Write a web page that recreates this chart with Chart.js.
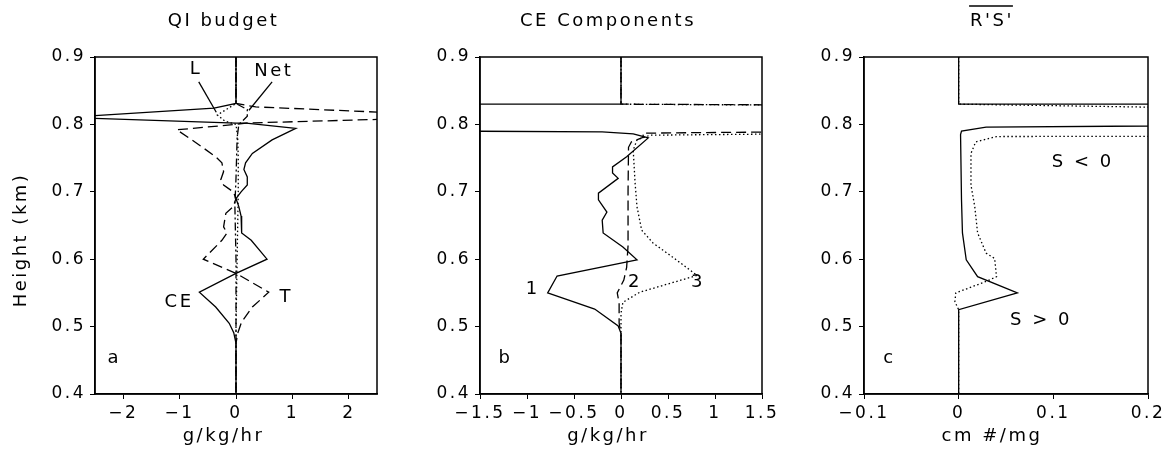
<!DOCTYPE html>
<html>
<head>
<meta charset="utf-8">
<script src="https://cdn.jsdelivr.net/npm/chart.js@4/dist/chart.umd.min.js"></script>
<style>
html, body { margin: 0; padding: 0; background: #fff; overflow: hidden; width: 1164px; height: 451px; }
canvas { position: absolute; top: 0; }
</style>
</head>
<body>
<canvas id="qi" width="447" height="451" style="left:0px"></canvas>
<canvas id="ce" width="416" height="451" style="left:400px"></canvas>
<canvas id="rs" width="380" height="451" style="left:790px"></canvas>
<script>
// ---- data (x = value, y = height in km) ----
const heightTicks = [0.4, 0.5, 0.6, 0.7, 0.8, 0.9];
const qiTicks = [-2, -1, 0, 1, 2];
const ceTicks = [-1.5, -1, -0.5, 0, 0.5, 1, 1.5];
const rsTicks = [-0.1, 0, 0.1, 0.2];

// panel a: QI budget
const qiCE_x = [0, 0, -0.39, -3.0, 0, 0.18, 1.06, 0.64, 0.29, 0.17, 0.14, 0.2, 0.2, 0.09, 0, 0.05, 0.09, 0.1, 0.27, 0.55, 0, -0.65, -0.36, -0.12, -0.04, 0, 0];
const qiCE_h = [0.9, 0.831, 0.824, 0.8104, 0.802, 0.802, 0.794, 0.777, 0.757, 0.743, 0.733, 0.722, 0.71, 0.70, 0.69, 0.678, 0.664, 0.639, 0.628, 0.60, 0.579, 0.551, 0.529, 0.505, 0.491, 0.475, 0.4];
const qiT_x = [0, 0, 0.35, 4.34, 0.18, 0, -1.05, -0.78, -0.36, -0.25, -0.22, -0.27, -0.22, -0.05, 0, -0.05, -0.18, -0.22, -0.16, -0.25, -0.58, 0, 0.58, 0.29, 0.1, 0.03, 0, 0];
const qiT_h = [0.9, 0.831, 0.826, 0.8117, 0.802, 0.80, 0.792, 0.777, 0.752, 0.743, 0.73, 0.718, 0.71, 0.70, 0.69, 0.678, 0.668, 0.648, 0.639, 0.628, 0.60, 0.579, 0.551, 0.529, 0.507, 0.49, 0.475, 0.4];
const qiL_x = [0, 0, -0.33, -0.2, 0, 0.03, 0.04, 0.04, 0.03, 0.02, 0.01, 0, 0];
const qiL_h = [0.9, 0.831, 0.814, 0.805, 0.80, 0.78, 0.75, 0.70, 0.65, 0.6, 0.55, 0.5, 0.4];
const qiNet_x = [0, 0, 0.2, 0.2, 0.05, 0.02, 0, -0.02, 0, 0, 0];
const qiNet_h = [0.9, 0.831, 0.822, 0.812, 0.80, 0.78, 0.72, 0.68, 0.6, 0.5, 0.4];

// panel b: CE components
const ce1_x = [0, 0, -5, -5, -0.2, 0.13, 0.29, 0.06, -0.09, -0.09, -0.03, -0.24, -0.24, -0.15, -0.2, -0.19, 0.02, 0.17, -0.68, -0.78, -0.28, -0.03, 0, 0];
const ce1_h = [0.9, 0.83, 0.83, 0.792, 0.789, 0.786, 0.78, 0.752, 0.737, 0.728, 0.72, 0.698, 0.688, 0.67, 0.658, 0.639, 0.618, 0.599, 0.575, 0.55, 0.526, 0.501, 0.49, 0.4];
const ce2_x = [0, 0, 5, 5, 0.23, 0.24, 0.11, 0.08, 0.075, 0.075, 0.06, 0.03, -0.04, -0.02, -0.02, 0, 0];
const ce2_h = [0.9, 0.83, 0.827, 0.793, 0.787, 0.781, 0.774, 0.766, 0.70, 0.62, 0.588, 0.569, 0.55, 0.535, 0.505, 0.49, 0.4];
const ce3_x = [0, 0, 5, 5, 0.31, 0.17, 0.13, 0.15, 0.17, 0.22, 0.34, 0.55, 0.81, 0.2, 0.02, 0, 0];
const ce3_h = [0.9, 0.83, 0.826, 0.79, 0.784, 0.777, 0.762, 0.713, 0.678, 0.643, 0.624, 0.603, 0.576, 0.551, 0.536, 0.52, 0.4];

// panel c: R'S'
const rsSolid_x = [0, 0, 0.5, 0.5, 0.029, 0.003, 0.002, 0.003, 0.004, 0.008, 0.02, 0.062, 0, 0];
const rsSolid_h = [0.9, 0.83, 0.83, 0.8005, 0.796, 0.79, 0.785, 0.688, 0.639, 0.599, 0.574, 0.55, 0.525, 0.4];
const rsDot_x = [0, 0, 0.5, 0.5, 0.04, 0.018, 0.013, 0.013, 0.017, 0.02, 0.029, 0.038, 0.04, 0.029, -0.003, -0.004, 0, 0];
const rsDot_h = [0.9, 0.83, 0.819, 0.783, 0.782, 0.774, 0.757, 0.71, 0.678, 0.639, 0.609, 0.601, 0.574, 0.567, 0.55, 0.537, 0.525, 0.4];

// labels inside the panels (data units)
const qiNoteText = ['L', 'Net', 'CE', 'T', 'a'];
const qiNoteX = [-0.71, 0.67, -1.01, 0.89, -2.16];
const qiNoteY = [0.881, 0.879, 0.536, 0.544, 0.453];
const qiPointerL_x = [-0.66, -0.35], qiPointerL_h = [0.863, 0.818];
const qiPointerNet_x = [0.64, 0.23], qiPointerNet_h = [0.863, 0.821];
const ceNoteText = ['1', '2', '3', 'b'];
const ceNoteX = [-0.94, 0.15, 0.82, -1.23];
const ceNoteY = [0.556, 0.566, 0.566, 0.453];
const rsNoteText = ['S < 0', 'S > 0', 'c'];
const rsNoteX = [0.131, 0.087, -0.073];
const rsNoteY = [0.743, 0.51, 0.453];

// ---- helpers ----
const FONT = '"DejaVu Sans", "Liberation Sans", sans-serif';
Chart.defaults.font.family = FONT;
Chart.defaults.font.size = 17;
Chart.defaults.color = '#000';

const zip = (xs, hs) => xs.map((v, i) => ({ x: v, y: hs[i] }));
const minus = v => String(v).replace('-', '\u2212');

const SOLID = [], DASH = [10, 5], DOT = [1.5, 2.5], DASHDOT = [8, 3, 2, 3];
function line(xs, hs, dash, width) {
  return { data: zip(xs, hs), showLine: true, borderColor: '#000', borderWidth: width || 1.3,
           borderDash: dash, pointRadius: 0, fill: false };
}

const spacing = {
  id: 'spacing',
  beforeLayout(chart) { chart.ctx.letterSpacing = '2.5px'; },
  beforeDraw(chart) { chart.ctx.letterSpacing = '2.5px'; }
};

const frame = {
  id: 'frame',
  afterDatasetsDraw(chart) {
    const { ctx, chartArea: a } = chart;
    ctx.save();
    ctx.strokeStyle = '#000';
    ctx.lineWidth = 1.5;
    ctx.strokeRect(a.left, a.top, a.width, a.height);
    ctx.restore();
  }
};

const notes = {
  id: 'notes',
  afterDatasetsDraw(chart, args, opts) {
    const { ctx, scales } = chart;
    ctx.save();
    ctx.letterSpacing = '2.5px';
    ctx.font = '18px ' + FONT;
    ctx.fillStyle = '#000';
    ctx.textAlign = 'center';
    ctx.textBaseline = 'middle';
    opts.text.forEach((t, i) => {
      ctx.fillText(t, scales.x.getPixelForValue(opts.x[i]), scales.y.getPixelForValue(opts.y[i]));
    });
    ctx.restore();
  }
};

const yTitle = {
  id: 'yTitle',
  afterDraw(chart, args, opts) {
    if (!opts.text) return;
    const ctx = chart.ctx;
    ctx.save();
    ctx.letterSpacing = '2.5px';
    ctx.translate(opts.x, opts.y);
    ctx.rotate(-Math.PI / 2);
    ctx.font = '18px ' + FONT;
    ctx.fillStyle = '#000';
    ctx.textAlign = 'center';
    ctx.textBaseline = 'middle';
    ctx.fillText(opts.text, 0, 0);
    ctx.restore();
  }
};

const overline = {
  id: 'overline',
  afterDraw(chart, args, opts) {
    if (!opts.on) return;
    const ctx = chart.ctx, tb = chart.titleBlock;
    ctx.save();
    ctx.letterSpacing = '2.5px';
    ctx.font = '18px ' + FONT;
    const w = ctx.measureText(chart.options.plugins.title.text).width;
    const cx = (tb.left + tb.right) / 2 - 1;
    ctx.strokeStyle = '#000';
    ctx.lineWidth = 1.5;
    ctx.beginPath();
    ctx.moveTo(cx - w / 2, tb.top + 6);
    ctx.lineTo(cx + w / 2, tb.top + 6);
    ctx.stroke();
    ctx.restore();
  }
};

function panel(id, cfg) {
  new Chart(document.getElementById(id), {
    type: 'scatter',
    data: { datasets: cfg.datasets },
    plugins: [spacing, frame, notes, yTitle, overline],
    options: {
      responsive: false,
      animation: false,
      devicePixelRatio: 1,
      layout: { padding: { left: cfg.padLeft || 0, right: 0, top: 0, bottom: 0 } },
      plugins: {
        legend: { display: false },
        tooltip: { enabled: false },
        title: { display: true, text: cfg.title, font: { size: 18, weight: 'normal' },
                 padding: { top: 11, bottom: 24.4 } },
        // x-axis caption: centred like the title, over the whole panel
        subtitle: { display: true, position: 'bottom', text: cfg.xTitle, color: '#000',
                    font: { size: 18, weight: 'normal' }, padding: { top: 0, bottom: 4 } },
        notes: cfg.notes,
        yTitle: cfg.yTitle || {},
        overline: { on: !!cfg.overline }
      },
      scales: {
        x: {
          type: 'linear', min: cfg.xMin, max: cfg.xMax,
          afterBuildTicks: s => { s.ticks = cfg.xTicks.map(v => ({ value: v })); },
          afterFit: s => { s.height = 31.4; },
          ticks: { callback: v => minus(v), maxRotation: 0, autoSkip: false, padding: 4 },
          grid: { drawOnChartArea: false, drawTicks: true, tickLength: 5, color: '#000', tickWidth: 1 },
          border: { display: true, color: '#000', width: 1.5 }
        },
        y: {
          type: 'linear', min: 0.4, max: 0.9,
          afterBuildTicks: s => { s.ticks = heightTicks.map(v => ({ value: v })); },
          afterFit: s => { s.width = cfg.yWidth; },
          ticks: { callback: v => v.toFixed(1), padding: 4 },
          grid: { drawOnChartArea: false, drawTicks: true, tickLength: 5, color: '#000', tickWidth: 1 },
          border: { display: true, color: '#000', width: 1.5 }
        },
        // empty right-hand axis: reserves the margin right of the plot
        y2: {
          position: 'right', display: true,
          afterFit: s => { s.width = cfg.padRight; },
          ticks: { display: false }, grid: { display: false }, border: { display: false }
        }
      }
    }
  });
}

panel('qi', {
  title: 'QI budget', xTitle: 'g/kg/hr', xMin: -2.5, xMax: 2.5, xTicks: qiTicks,
  yWidth: 95, padRight: 70,
  yTitle: { text: 'Height (km)', x: 21, y: 240 },
  datasets: [
    line(qiL_x, qiL_h, DOT),
    line(qiNet_x, qiNet_h, DASHDOT),
    line(qiT_x, qiT_h, DASH),
    line(qiCE_x, qiCE_h, SOLID),
    line(qiPointerL_x, qiPointerL_h, SOLID),
    line(qiPointerNet_x, qiPointerNet_h, SOLID)
  ],
  notes: { text: qiNoteText, x: qiNoteX, y: qiNoteY }
});

panel('ce', {
  title: 'CE Components', xTitle: 'g/kg/hr', xMin: -1.5, xMax: 1.5, xTicks: ceTicks,
  yWidth: 80, padRight: 54,
  datasets: [
    line(ce3_x, ce3_h, DOT),
    line(ce2_x, ce2_h, DASH),
    line(ce1_x, ce1_h, SOLID)
  ],
  notes: { text: ceNoteText, x: ceNoteX, y: ceNoteY }
});

panel('rs', {
  title: "R'S'", overline: true, xTitle: 'cm #/mg', xMin: -0.1, xMax: 0.2, xTicks: rsTicks,
  padLeft: 24, yWidth: 50, padRight: 22,
  datasets: [
    line(rsDot_x, rsDot_h, DOT),
    line(rsSolid_x, rsSolid_h, SOLID)
  ],
  notes: { text: rsNoteText, x: rsNoteX, y: rsNoteY }
});
</script>
</body>
</html>
